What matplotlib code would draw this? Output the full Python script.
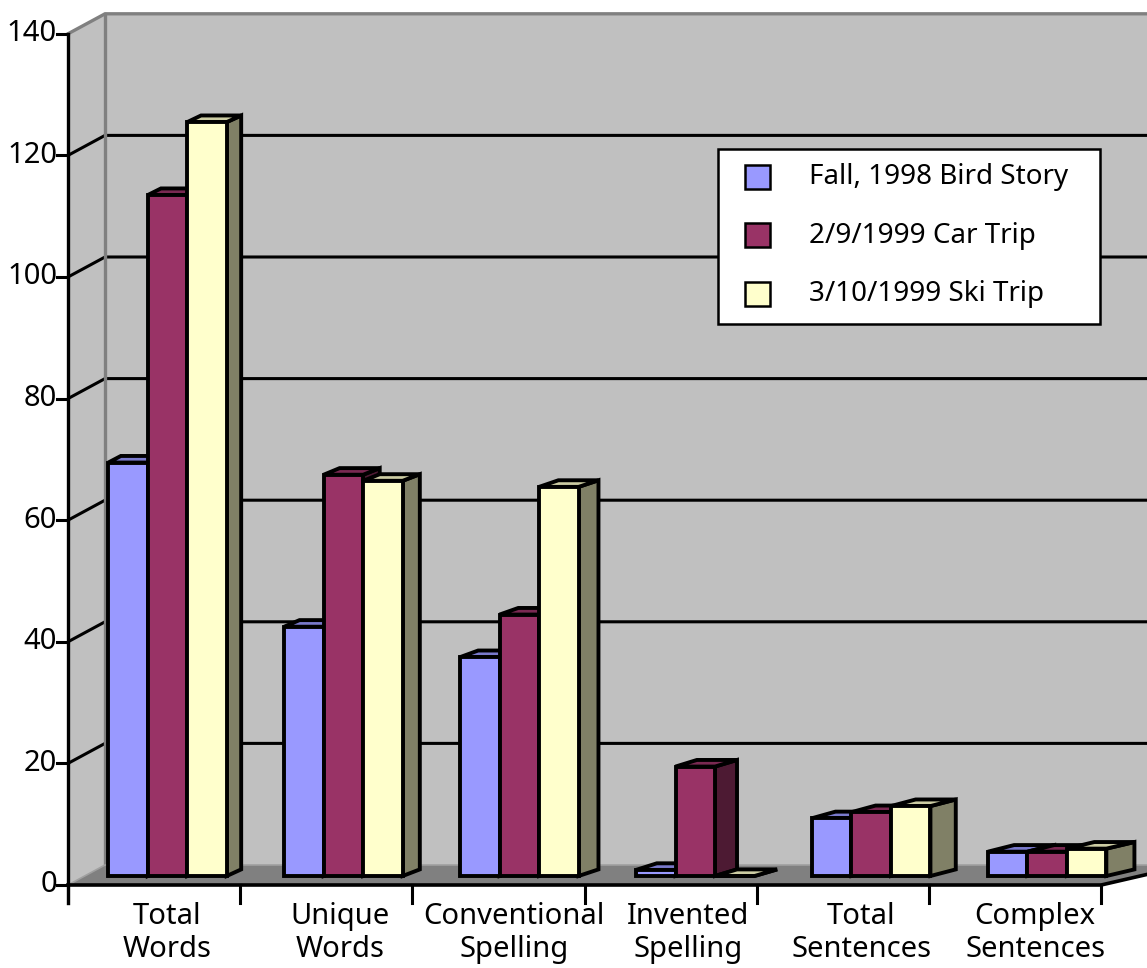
import numpy as np
import matplotlib.pyplot as plt
from matplotlib.patches import Polygon, Rectangle
from matplotlib.colors import to_rgb

plt.rcParams['font.family'] = ['Noto Sans', 'DejaVu Sans']

# Dane wykresu
categories = ["Total\nWords", "Unique\nWords", "Conventional\nSpelling",
              "Invented\nSpelling", "Total\nSentences", "Complex\nSentences"]
series_names = ["Fall, 1998 Bird Story", "2/9/1999 Car Trip", "3/10/1999 Ski Trip"]
bird_story = [68, 41, 36, 1, 9.5, 4]
car_trip = [112, 66, 43, 18, 10.5, 4]
ski_trip = [124, 65, 64, 0, 11.5, 4.5]
series = [bird_story, car_trip, ski_trip]
colors = ["#9999FF", "#993366", "#FFFFCC"]
y_ticks = [0, 20, 40, 60, 80, 100, 120, 140]

# Parametry rzutu "3D" (przesunięcie w głąb)
DX, KX, DY = 0.215, 0.048, 3.29
D_FRONT, D_BACK = 0.45, 0.78
BAR_W = 0.2245
GROUP_C = 0.471
V_MAX = 140
N = len(categories)

W, H = 1147, 968


def proj(x, v, d):
    return x * (1 + KX * d) + DX * d, v + DY * d


def shade(c, f):
    return tuple(np.clip(np.array(to_rgb(c)) * f, 0, 1))


fig = plt.figure(figsize=(W / 100, H / 100), dpi=100)
ax = fig.add_axes([0, 0, 1, 1])
ax.set_xlim(-68 / 172.2, (W - 68) / 172.2)
ax.set_ylim(-(H - 885) / 6.08, 885 / 6.08)
ax.axis('off')

wall = "#C0C0C0"
edge_gray = "#808080"

# Ściana tylna
back = [proj(0, 0, 1), proj(N, 0, 1), proj(N, V_MAX, 1), proj(0, V_MAX, 1)]
ax.add_patch(Polygon(back, closed=True, fc=wall, ec='none', zorder=0))
# Ściana lewa
left = [proj(0, 0, 0), proj(0, 0, 1), proj(0, V_MAX, 1), proj(0, V_MAX, 0)]
ax.add_patch(Polygon(left, closed=True, fc=wall, ec='none', zorder=0))
# Podłoga
floor = [proj(0, 0, 0), proj(N, 0, 0), proj(N, 0, 1), proj(0, 0, 1)]
ax.add_patch(Polygon(floor, closed=True, fc="#808080", ec='none', zorder=1))

# Linie siatki
for v in y_ticks[1:-1]:
    p0, p1, p2 = proj(0, v, 0), proj(0, v, 1), proj(N, v, 1)
    ax.plot([p0[0], p1[0], p2[0]], [p0[1], p1[1], p2[1]], color='black',
            lw=2.2, zorder=1, solid_capstyle='butt')

# Krawędzie ścian
p0, p1, p2 = proj(0, V_MAX, 0), proj(0, V_MAX, 1), proj(N, V_MAX, 1)
ax.plot([p0[0], p1[0], p2[0]], [p0[1], p1[1], p2[1]], color=edge_gray, lw=2.4, zorder=1)
pb = proj(0, 0, 1)
ax.plot([pb[0], p1[0]], [pb[1], p1[1]], color=edge_gray, lw=2.4, zorder=1)
pe = proj(N, 0, 1)
ax.plot([0, pb[0], pe[0]], [0, pb[1], pe[1]], color="#A0A0A0", lw=1.2, zorder=1.5)

# Słupki
z = 3
for i in range(N):
    for j, (vals, col) in enumerate(zip(series, colors)):
        v = vals[i]
        x0 = i + GROUP_C + (j - 1.5) * BAR_W
        x1 = x0 + BAR_W
        front = [proj(x0, 0, D_FRONT), proj(x1, 0, D_FRONT),
                 proj(x1, v, D_FRONT), proj(x0, v, D_FRONT)]
        top = [proj(x0, v, D_FRONT), proj(x1, v, D_FRONT),
               proj(x1, v, D_BACK), proj(x0, v, D_BACK)]
        side = [proj(x1, 0, D_FRONT), proj(x1, 0, D_BACK),
                proj(x1, v, D_BACK), proj(x1, v, D_FRONT)]
        for pts, fc in ((side, shade(col, 0.5)), (top, shade(col, 0.8)), (front, col)):
            ax.add_patch(Polygon(pts, closed=True, fc=fc, ec='black', lw=2.8,
                                 joinstyle='miter', zorder=z))
        z += 0.1

# Oś wartości
ax.plot([0, 0], [-18 / 6.08, V_MAX], color='black', lw=2.4, zorder=6)
for v in y_ticks:
    ax.plot([-11 / 172.2, 0], [v, v], color='black', lw=2.2, zorder=6)
    ax.text(-11 / 172.2, v, str(v), ha='right', va='center', fontsize=21, zorder=6)

# Oś kategorii
pr = proj(N, 0, 1)
ax.plot([0, N, pr[0]], [0, 0, pr[1]], color='black', lw=2.6, zorder=6)
for i in range(N + 1):
    ax.plot([i, i], [0, -18 / 6.08], color='black', lw=2.2, zorder=6)
for i, lab in enumerate(categories):
    lx, _ = proj(i + 0.53, 0, 0.18)
    ax.text(lx, -(902 - 885) / 6.08, lab, ha='center', va='top', fontsize=21,
            linespacing=1.2, zorder=6)

# Legenda
def fx(px):
    return px / W


def fy(py):
    return 1 - py / H


ax.add_patch(Rectangle((fx(718), fy(324)), fx(1100) - fx(718), fy(149) - fy(324),
                       transform=fig.transFigure, fc='white', ec='black', lw=1.8, zorder=10))
for k, (name, col) in enumerate(zip(series_names, colors)):
    cy = 177 + k * 58.5
    ax.add_patch(Rectangle((fx(745), fy(cy + 12)), fx(770) - fx(745), fy(cy - 12) - fy(cy + 12),
                           transform=fig.transFigure, fc=col, ec='black', lw=1.8, zorder=11))
    ax.text(fx(809), fy(cy), name, transform=fig.transFigure, ha='left', va='center',
            fontsize=20, zorder=11)

fig.savefig("out.png", dpi=100)
